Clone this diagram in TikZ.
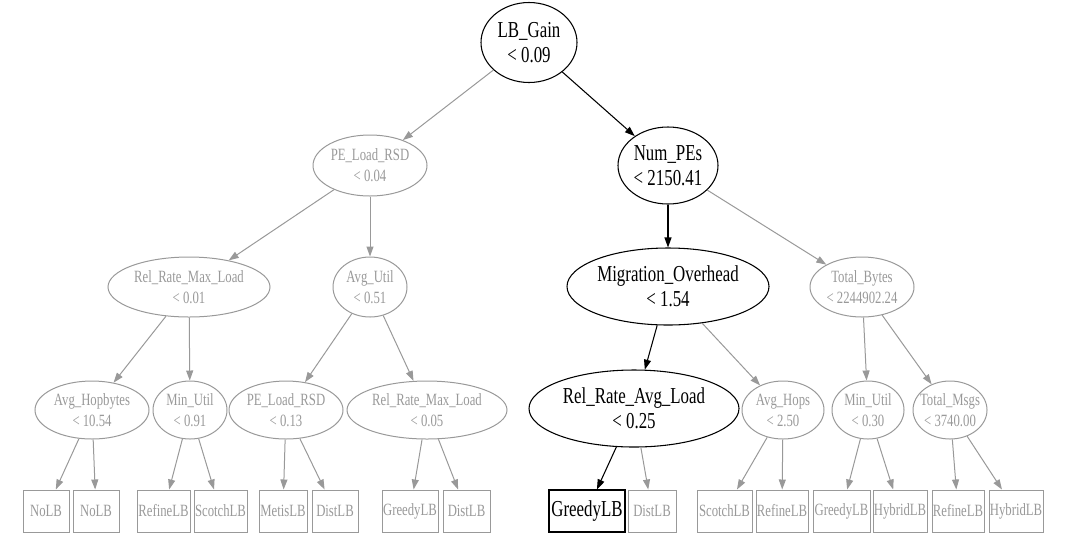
\documentclass[tikz,border=0pt]{standalone}
\usepackage{fontspec}
\setmainfont{Liberation Serif}[FakeStretch=0.74]
\usetikzlibrary{shapes.geometric,arrows.meta}
\definecolor{gcol}{RGB}{153,153,153}
\newcommand\TreeEll[7]{%
  \node[ellipse, inner sep=0pt, minimum width=#3*1.5pt, minimum height=#4*1.5pt, #5] (#1) at #2 {};
  \node[#6] at (#1.center) {#7};
}
\begin{document}
\begin{tikzpicture}[x=0.75pt,y=-0.75pt,
  gshape/.style={draw=gcol, line width=0.75pt},
  bshape/.style={draw=black, line width=0.8pt},
  gtext/.style={text=gcol, inner sep=0pt, align=center, font=\fontsize{12.9pt}{15.75pt}\selectfont},
  btext/.style={text=black, inner sep=0pt, align=center, font=\fontsize{17.1pt}{19pt}\selectfont},
  gbox/.style={draw=gcol, line width=0.75pt, text=gcol, inner sep=0pt, minimum height=31.5pt, font=\fontsize{12.9pt}{15.75pt}\selectfont},
  bbox/.style={draw=black, line width=0.9pt, text=black, inner sep=0pt, minimum height=31.5pt, font=\fontsize{17.1pt}{19pt}\selectfont},
  garrow/.style={draw=gcol, line width=0.75pt, -{Triangle[length=7.5pt,width=5.25pt]}},
  barrow/.style={draw=black, line width=0.8pt, -{Triangle[length=7.5pt,width=5.25pt]}}
]
\useasboundingbox (0,0) rectangle (1069,533);

% level 0
\TreeEll{root}{(529,42.5)}{48}{40}{bshape}{btext}{LB\_Gain\\< 0.09}
% level 1
\TreeEll{pea}{(370,165.5)}{57}{30.5}{gshape}{gtext}{PE\_Load\_RSD\\< 0.04}
\TreeEll{num}{(668,165.5)}{50}{38.5}{bshape}{btext}{Num\_PEs\\< 2150.41}
% level 2
\TreeEll{rrma}{(189,287)}{81}{30}{gshape}{gtext}{Rel\_Rate\_Max\_Load\\< 0.01}
\TreeEll{avgu}{(370,287)}{37}{30}{gshape}{gtext}{Avg\_Util\\< 0.51}
\TreeEll{mig}{(668,286.5)}{101}{38.5}{bshape}{btext}{Migration\_Overhead\\< 1.54}
\TreeEll{tb}{(862,287)}{52}{30}{gshape}{gtext}{Total\_Bytes\\< 2244902.24}
% level 3
\TreeEll{ahb}{(92,410)}{57}{29}{gshape}{gtext}{Avg\_Hopbytes\\< 10.54}
\TreeEll{mua}{(190,410)}{37}{29}{gshape}{gtext}{Min\_Util\\< 0.91}
\TreeEll{peb}{(286,410)}{57}{29}{gshape}{gtext}{PE\_Load\_RSD\\< 0.13}
\TreeEll{rrmb}{(427,410)}{80}{29}{gshape}{gtext}{Rel\_Rate\_Max\_Load\\< 0.05}
\TreeEll{rral}{(634,408.5)}{105}{38.5}{bshape}{btext}{Rel\_Rate\_Avg\_Load\\< 0.25}
\TreeEll{ah}{(783,410)}{41}{29}{gshape}{gtext}{Avg\_Hops\\< 2.50}
\TreeEll{mub}{(868,410)}{36}{29}{gshape}{gtext}{Min\_Util\\< 0.30}
\TreeEll{tm}{(950,410)}{37}{29}{gshape}{gtext}{Total\_Msgs\\< 3740.00}

% leaves
\node[gbox, minimum width=34.5pt] (l1) at (46,511) {NoLB};
\node[gbox, minimum width=34.5pt] (l2) at (96,511) {NoLB};
\node[gbox, minimum width=39.75pt] (l3) at (163.5,511) {RefineLB};
\node[gbox, minimum width=39.75pt] (l4) at (220.5,511) {ScotchLB};
\node[gbox, minimum width=36pt] (l5) at (283,511) {MetisLB};
\node[gbox, minimum width=34.5pt] (l6) at (335,511) {DistLB};
\node[gbox, minimum width=42pt] (l7) at (410,511) {GreedyLB};
\node[gbox, minimum width=35.25pt] (l8) at (466.5,511) {DistLB};
\node[bbox, minimum width=57pt] (l9) at (587,511) {GreedyLB};
\node[gbox, minimum width=36pt] (l10) at (652,511) {DistLB};
\node[gbox, minimum width=41.25pt] (l11) at (724.5,511) {ScotchLB};
\node[gbox, minimum width=39pt] (l12) at (782,511) {RefineLB};
\node[gbox, minimum width=42.75pt] (l13) at (841.5,511) {GreedyLB};
\node[gbox, minimum width=40.5pt] (l14) at (900,511) {HybridLB};
\node[gbox, minimum width=39pt] (l15) at (958,511) {RefineLB};
\node[gbox, minimum width=40.5pt] (l16) at (1016,511) {HybridLB};

% edges
\draw[garrow] (root) -- (pea);
\draw[barrow] (root) -- (num);
\draw[garrow] (pea) -- (rrma);
\draw[garrow] (pea) -- (avgu);
\draw[barrow] (num) -- (mig);
\draw[garrow] (num) -- (tb);
\draw[garrow] (rrma) -- (ahb);
\draw[garrow] (rrma) -- (mua);
\draw[garrow] (avgu) -- (peb);
\draw[garrow] (avgu) -- (rrmb);
\draw[barrow] (mig) -- (rral);
\draw[garrow] (mig) -- (ah);
\draw[garrow] (tb) -- (mub);
\draw[garrow] (tb) -- (tm);
\draw[garrow] (ahb) -- (l1);
\draw[garrow] (ahb) -- (l2);
\draw[garrow] (mua) -- (l3);
\draw[garrow] (mua) -- (l4);
\draw[garrow] (peb) -- (l5);
\draw[garrow] (peb) -- (l6);
\draw[garrow] (rrmb) -- (l7);
\draw[garrow] (rrmb) -- (l8);
\draw[barrow] (rral) -- (l9);
\draw[garrow] (rral) -- (l10);
\draw[garrow] (ah) -- (l11);
\draw[garrow] (ah) -- (l12);
\draw[garrow] (mub) -- (l13);
\draw[garrow] (mub) -- (l14);
\draw[garrow] (tm) -- (l15);
\draw[garrow] (tm) -- (l16);
\end{tikzpicture}
\end{document}
